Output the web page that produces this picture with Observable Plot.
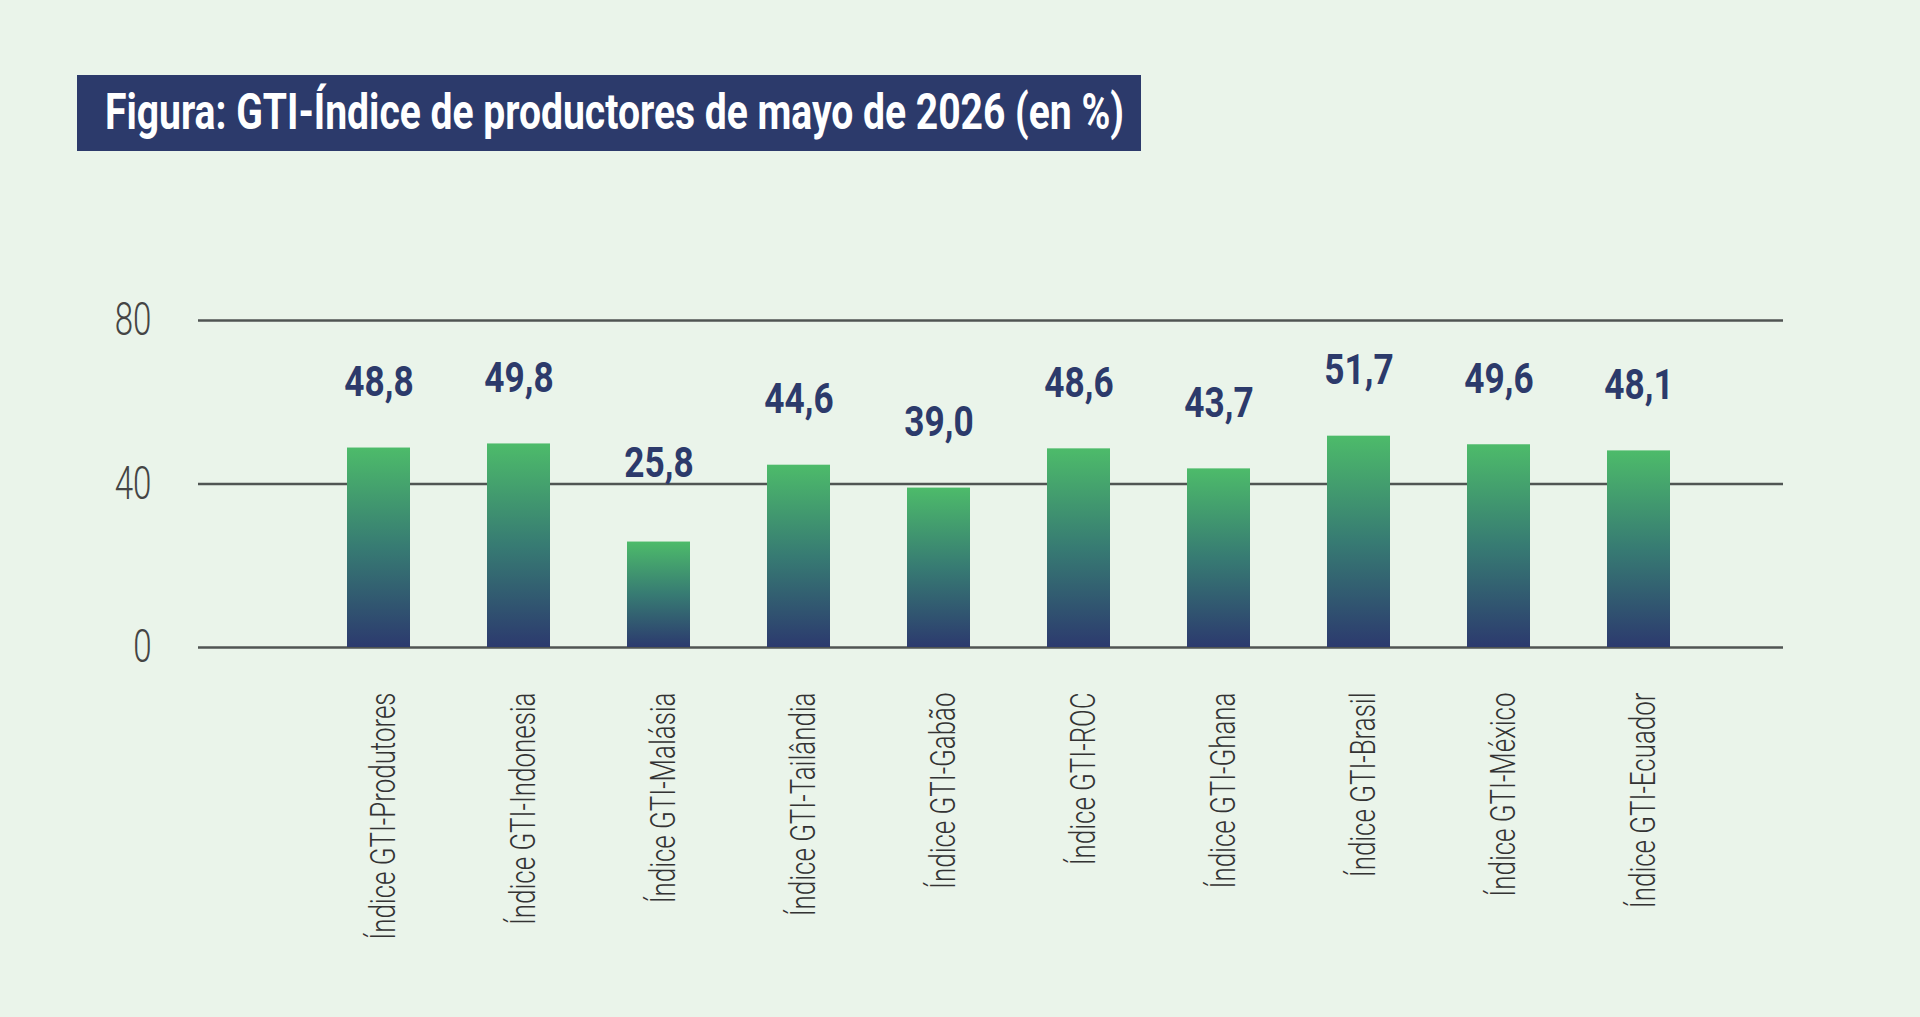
<!DOCTYPE html>
<html>
<head>
<meta charset="utf-8">
<script src="https://cdn.jsdelivr.net/npm/d3@7"></script>
<script src="https://cdn.jsdelivr.net/npm/@observablehq/plot@0.6"></script>
<style>
  html, body { margin: 0; padding: 0; background: #eaf4ea; overflow: hidden; }
  #head { position: relative; height: 160px; }
  #titlebox { position: absolute; left: 77px; top: 75px; width: 1064px; height: 76px; background: #2c3a6b; overflow: hidden; }
  #title { position: absolute; left: 28px; top: 7px; white-space: nowrap; color: #fff;
           font-family: Roboto, "Liberation Sans", sans-serif; font-weight: 700; font-size: 50px;
           line-height: 60px; transform-origin: 0 0; }
  #chart svg { display: block; }
</style>
</head>
<body>
<div id="head"><div id="titlebox"><span id="title">Figura: GTI-Índice de productores de mayo de 2026 (en %)</span></div></div>
<div id="chart"></div>
<script>
const categories = [
  "Índice GTI-Produtores",
  "Índice GTI-Indonesia",
  "Índice GTI-Malásia",
  "Índice GTI-Tailândia",
  "Índice GTI-Gabão",
  "Índice GTI-ROC",
  "Índice GTI-Ghana",
  "Índice GTI-Brasil",
  "Índice GTI-México",
  "Índice GTI-Ecuador"
];
const values = [48.8, 49.8, 25.8, 44.6, 39.0, 48.6, 43.7, 51.7, 49.6, 48.1];
const yTicks = [0, 40, 80];

const data = categories.map((c, i) => ({category: c, value: values[i]}));
const fmt = v => v.toFixed(1).replace(".", ",");

// label position: a fixed gap above the bar, nudged above a gridline it would cross
const gap = 12.7, textH = 7.5, clear = 1.6;
const labelY = d => {
  const base = d.value + gap;
  const hit = yTicks.find(t => base < t + clear && base + textH > t);
  return hit !== undefined ? hit + clear : base;
};

// fit title to target width
const t = document.getElementById("title");
const tw = t.getBoundingClientRect().width;
t.style.transform = `scaleX(${1019 / tw})`;

const svg = Plot.plot({
  width: 1920,
  height: 857,
  marginTop: 160,
  marginBottom: 370,
  marginLeft: 198,
  marginRight: 137,
  style: {background: "transparent", fontFamily: "Roboto, 'Liberation Sans', sans-serif"},
  x: {domain: categories, range: [307.5, 1708.5], paddingInner: 0.55, paddingOuter: 0.275, label: null},
  y: {domain: [0, 80], label: null},
  marks: [
    Plot.ruleY(yTicks, {stroke: "#505553", strokeWidth: 2.5}),
    Plot.barY(data, {x: "category", y: "value", fill: "url(#barGrad)"}),
    Plot.text(data, {x: "category", y: labelY, text: d => fmt(d.value), lineAnchor: "bottom",
      fill: "#2c3a6b", fontSize: 42, fontWeight: 700, className: "vlab"}),
    Plot.axisY({ticks: yTicks, tickSize: 0, tickPadding: 47, fontSize: 46, fontWeight: 300, fill: "#444", className: "ylab", label: null}),
    Plot.axisX({tickSize: 0, tickPadding: 45, tickRotate: -90, fontSize: 36, fontWeight: 300, fill: "#333", dx: 4, className: "xlab", label: null})
  ]
});

// gradient definition
const ns = "http://www.w3.org/2000/svg";
const defs = document.createElementNS(ns, "defs");
const grad = document.createElementNS(ns, "linearGradient");
grad.setAttribute("id", "barGrad");
grad.setAttribute("x1", "0"); grad.setAttribute("y1", "0");
grad.setAttribute("x2", "0"); grad.setAttribute("y2", "1");
[["0", "#4dbb6a"], ["0.5", "#377b73"], ["1", "#2c3a6e"]].forEach(([o, c]) => {
  const s = document.createElementNS(ns, "stop");
  s.setAttribute("offset", o); s.setAttribute("stop-color", c);
  grad.appendChild(s);
});
defs.appendChild(grad);
svg.insertBefore(defs, svg.firstChild);

document.getElementById("chart").appendChild(svg);

// condense text horizontally (DIN-condensed look)
const condense = (cls, s) => {
  svg.querySelectorAll(`.${cls} text`).forEach(el => {
    const tr = el.getAttribute("transform") || "";
    if (!tr.includes("scale(")) el.setAttribute("transform", tr + ` scale(${s},1)`);
  });
};
condense("vlab", 0.84);
condense("ylab", 0.72);
condense("xlab", 0.72);
</script>
</body>
</html>
